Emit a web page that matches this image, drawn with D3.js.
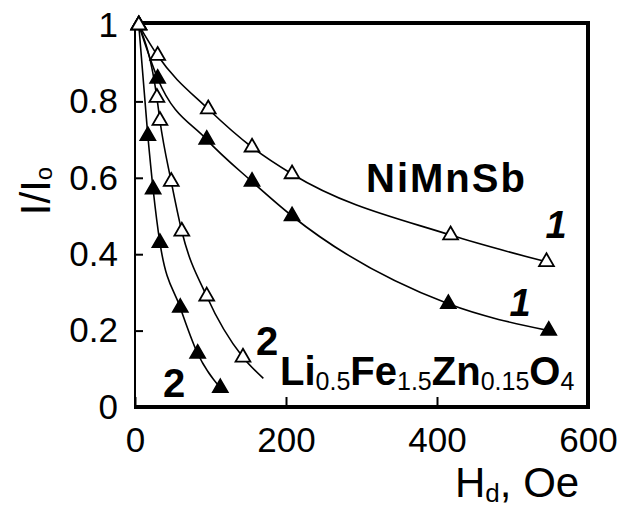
<!DOCTYPE html>
<html>
<head>
<meta charset="utf-8">
<script src="https://cdn.jsdelivr.net/npm/d3@7"></script>
<style>
  body { margin: 0; background: #fff; }
  svg { display: block; }
  text { font-family: Arial, "Liberation Sans", sans-serif; fill: #000; }
</style>
</head>
<body>
<svg id="chart" width="625" height="509"></svg>
<script>
// Field H_d (Oe) and normalised intensity I/I0 for each curve
const niOpenH    = [5, 30, 97, 155, 208, 418, 545];
const niOpenI    = [1.0, 0.92, 0.78, 0.68, 0.61, 0.45, 0.38];
const niFilledH  = [5, 30, 95, 155, 208, 415, 548];
const niFilledI  = [1.0, 0.86, 0.70, 0.59, 0.50, 0.27, 0.20];
const feOpenH    = [5, 29, 33, 48, 62, 95, 143, 170];
const feOpenI    = [1.0, 0.81, 0.75, 0.59, 0.46, 0.29, 0.13, 0.075];
const feOpenMarked = [true, true, true, true, true, true, true, false];
const feFilledH  = [5, 17, 24, 33, 60, 83, 113];
const feFilledI  = [1.0, 0.71, 0.57, 0.43, 0.26, 0.14, 0.05];

const xTicks = [0, 200, 400, 600];
const yTicks = [0, 0.2, 0.4, 0.6, 0.8, 1];

const svg = d3.select("#chart");
const x = d3.scaleLinear().domain([0, 600]).range([135, 588]);
const y = d3.scaleLinear().domain([0, 1]).range([407, 25]);

// frame
const frame = svg.append("g").attr("stroke", "#000").attr("fill", "none");
frame.append("line").attr("x1", x(0)).attr("x2", x(0)).attr("y1", y(1) - 2).attr("y2", y(0) + 2).attr("stroke-width", 2);
frame.append("line").attr("x1", x(0)).attr("x2", x(600) + 2).attr("y1", y(0)).attr("y2", y(0)).attr("stroke-width", 4);
frame.append("line").attr("x1", x(0)).attr("x2", x(600) + 2).attr("y1", y(1) - 2).attr("y2", y(1) - 2).attr("stroke-width", 4);
frame.append("line").attr("x1", x(600)).attr("x2", x(600)).attr("y1", y(1) - 4).attr("y2", y(0) + 2).attr("stroke-width", 4);

// axes (ticks point inward)
const yAxis = svg.append("g").attr("transform", `translate(${x(0)},0)`)
  .call(d3.axisLeft(y).tickValues(yTicks).tickSize(-8).tickPadding(17).tickFormat(d => String(d)));
const xAxis = svg.append("g").attr("transform", `translate(0,${y(0)})`)
  .call(d3.axisBottom(x).tickValues(xTicks).tickSize(-10).tickPadding(20).tickFormat(d => String(d)));
[xAxis, yAxis].forEach(g => {
  g.select(".domain").remove();
  g.selectAll(".tick line").attr("stroke", "#000").attr("stroke-width", 2);
  g.selectAll(".tick text").attr("font-size", 35).attr("font-family", "Arial, 'Liberation Sans', sans-serif").attr("fill", "#000");
});

// axis titles
const yTitle = svg.append("text").attr("transform", "translate(50,191) rotate(-90)")
  .attr("text-anchor", "middle").attr("font-size", 42);
yTitle.append("tspan").text("I/I");
yTitle.append("tspan").attr("font-size", 24).attr("dy", 2).text("o");

const xTitle = svg.append("text").attr("x", 455).attr("y", 497).attr("font-size", 42);
xTitle.append("tspan").text("H");
xTitle.append("tspan").attr("font-size", 26).attr("dy", 5).text("d");
xTitle.append("tspan").attr("dy", -5).text(", Oe");

// curves
const line = d3.line().x(d => x(d[0])).y(d => y(d[1])).curve(d3.curveMonotoneX);
const series = [
  { h: feFilledH, v: feFilledI, filled: true },
  { h: niFilledH, v: niFilledI, filled: true },
  { h: feOpenH, v: feOpenI, filled: false, marked: feOpenMarked },
  { h: niOpenH, v: niOpenI, filled: false }
];
series.forEach(s => {
  const pts = s.h.map((h, i) => [h, s.v[i]]);
  svg.append("path").datum(pts).attr("d", line)
    .attr("fill", "none").attr("stroke", "#000").attr("stroke-width", 1.6);
});
const tri = d3.symbol().type(d3.symbolTriangle).size(95);
series.forEach(s => {
  const pts = s.h.map((h, i) => [h, s.v[i]]).filter((p, i) => !s.marked || s.marked[i]);
  svg.append("g").selectAll("path").data(pts).join("path")
    .attr("d", tri)
    .attr("transform", d => `translate(${x(d[0])},${y(d[1])})`)
    .attr("fill", s.filled ? "#000" : "#fff")
    .attr("stroke", "#000").attr("stroke-width", 1.8);
});

// curve labels
svg.append("text").attr("x", 366).attr("y", 192).attr("font-size", 40)
  .attr("font-weight", "bold").attr("letter-spacing", 2).text("NiMnSb");
svg.append("text").attr("x", 556).attr("y", 238).attr("font-size", 38)
  .attr("font-style", "italic").attr("font-weight", "bold").attr("text-anchor", "middle").text("1");
svg.append("text").attr("x", 520).attr("y", 316).attr("font-size", 38)
  .attr("font-style", "italic").attr("font-weight", "bold").attr("text-anchor", "middle").text("1");
svg.append("text").attr("x", 267).attr("y", 355).attr("font-size", 40)
  .attr("font-weight", "bold").attr("text-anchor", "middle").text("2");
svg.append("text").attr("x", 174).attr("y", 397).attr("font-size", 40)
  .attr("font-weight", "bold").attr("text-anchor", "middle").text("2");

const fe = svg.append("text").attr("x", 280).attr("y", 385).attr("font-size", 40).attr("font-weight", "bold");
[["Li", false], ["0.5", true], ["Fe", false], ["1.5", true], ["Zn", false], ["0.15", true], ["O", false], ["4", true]]
  .forEach(([t, sub], i, arr) => {
    const prevSub = i > 0 && arr[i - 1][1];
    const ts = fe.append("tspan").text(t);
    if (sub) ts.attr("font-size", 25).attr("font-weight", "normal").attr("dy", prevSub ? 0 : 5);
    else if (prevSub) ts.attr("dy", -5);
  });
</script>
</body>
</html>
